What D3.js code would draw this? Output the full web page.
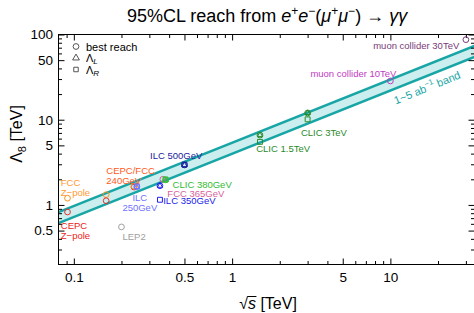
<!DOCTYPE html>
<html><head><meta charset="utf-8">
<script src="https://cdn.jsdelivr.net/npm/d3@7"></script>
<style>
body{margin:0;background:#fff}
svg{display:block}
text{font-family:"Liberation Sans",Arial,sans-serif}
</style>
</head><body>
<svg id="chart" width="474" height="313"></svg>
<script>
// collider runs: sqrt(s) in TeV and 95%CL reach in TeV
const runs     = ["FCC Z","CEPC Z","LEP2","FCC 160","CEPC 160","CEPC 240","FCC 240","ILC 250","ILC 350","FCC 365","CLIC 380","ILC 500","CLIC 1.5","CLIC 3","muon 10","muon 30"];
const sqrtS    = [0.0912,0.0912,0.2,0.16,0.16,0.24,0.24,0.25,0.35,0.365,0.38,0.5,1.5,3,10,30];
const bestReach= [1.20,0.826,0.552,1.32,1.12,1.62,1.66,1.64,1.68,2.0,1.97,2.95,6.6,12.0,28.5,87];
const lambdaL  = [null,null,null,null,null,null,null,1.62,1.68,null,1.95,2.93,6.6,12.0,null,null];
const lambdaR  = [null,null,null,null,null,null,null,1.66,1.15,null,1.99,2.97,5.5,10.1,null,null];
const runColor = ["#f7941d","#e8322f","#a0a0a0","#f7941d","#e8322f","#e8322f","#f7941d","#6f72ff","#2222ee","#d9609a","#33bb33","#1c1c9c","#2a8a2a","#2a8a2a","#c23bc2","#7a3a7a"];

// 1-5 ab^-1 band (straight in log-log)
const bandS    = [0.08, 34];
const bandHigh = [0.822, 73.4];
const bandLow  = [0.611, 54.6];

// tick values
const xMajor = [0.1,0.5,1,5,10];
const xMinor = [0.09,0.2,0.3,0.4,0.6,0.7,0.8,0.9,2,3,4,6,7,8,9,20,30];
const yMajor = [0.5,1,5,10,50,100];
const yMinor = [0.3,0.4,0.6,0.7,0.8,0.9,2,3,4,6,7,8,9,20,30,40,60,70,80,90];

// labels: run index, text lines, pixel offset from marker, anchor
const labels = [
  {i:0,  lines:["FCC","Z\u2212pole"], dx:-6.7, dy:-15.5, anchor:"start", color:"#ff9933"},
  {i:1,  lines:["CEPC","Z\u2212pole"], dx:-6.7, dy:13.7, anchor:"start", color:"#ee2222"},
  {i:2,  lines:["LEP2"], dx:1, dy:9.2, anchor:"start", color:"#a0a0a0"},
  {i:5,  lines:["CEPC/FCC","240GeV"], dx:-27.7, dy:-16.7, anchor:"start", color:"#ff5a22"},
  {i:7,  lines:["ILC","250GeV"], dx:3, dy:10.6, anchor:"middle", color:"#6f72ff"},
  {i:8,  lines:["ILC 350GeV"], dx:3.3, dy:15, anchor:"start", color:"#2222ee"},
  {i:9,  lines:["FCC 365GeV"], dx:4.5, dy:14.2, anchor:"start", color:"#d9609a"},
  {i:10, lines:["CLIC 380GeV"], dx:7, dy:4.9, anchor:"start", color:"#33bb33"},
  {i:11, lines:["ILC 500GeV"], dx:-34.4, dy:-9, anchor:"start", color:"#1c1c9c"},
  {i:12, lines:["CLIC 1.5TeV"], dx:-3.8, dy:13.3, anchor:"start", color:"#2a8a2a"},
  {i:13, lines:["CLIC 3TeV"], dx:-6.7, dy:19.6, anchor:"start", color:"#2a8a2a"},
  {i:14, lines:["muon collider 10TeV"], dx:-80, dy:-7.4, anchor:"start", color:"#c23bc2"},
  {i:15, lines:["muon collider 30TeV"], dx:-92.7, dy:6, anchor:"start", color:"#7a3a7a"}
];

const svg = d3.select('#chart');
const L = 58.5, R = 474.5, T = 34.5, B = 264.5;
const x = d3.scaleLog().domain([0.08,34]).range([L,R]);
const y = d3.scaleLog().domain([0.2,100]).range([B,T]);
const teal = '#18a5a5';

svg.append('clipPath').attr('id','clip')
  .append('rect').attr('x',L).attr('y',T).attr('width',R-L).attr('height',B-T);

// band
const bandData = bandS.map((s,k)=>({s, lo:bandLow[k], hi:bandHigh[k]}));
const gBand = svg.append('g').attr('clip-path','url(#clip)');
gBand.append('path').datum(bandData)
  .attr('d', d3.area().x(d=>x(d.s)).y0(d=>y(d.lo)).y1(d=>y(d.hi)))
  .attr('fill','#cdeeee');
['lo','hi'].forEach(key=>{
  gBand.append('path').datum(bandData)
    .attr('d', d3.line().x(d=>x(d.s)).y(d=>y(d[key])))
    .attr('fill','none').attr('stroke',teal).attr('stroke-width',2.5);
});

// band label
const bx = 427, by = 87.5;
const bl = svg.append('text')
  .attr('transform',`translate(${bx},${by}) rotate(-22)`)
  .attr('text-anchor','middle').attr('dominant-baseline','central')
  .attr('fill',teal).style('font-size','11px');
bl.append('tspan').text('1~5 ab');
bl.append('tspan').attr('dy',-4).style('font-size','8px').text('\u22121');
bl.append('tspan').attr('dy',4).text(' band');

// axes (ticks inward, frame drawn separately)
function styleAxis(g){
  g.select('.domain').remove();
  g.selectAll('line').attr('stroke','#000');
  g.selectAll('text').attr('fill','#000')
    .style('font-size','13.5px').style('font-family','"Liberation Sans",Arial,sans-serif');
}
const fmt = d=>String(d);
svg.append('g').attr('transform',`translate(0,${B})`)
  .call(d3.axisBottom(x).tickValues(xMajor).tickSize(-6).tickPadding(8).tickFormat(fmt)).call(styleAxis);
svg.append('g').attr('transform',`translate(0,${B})`)
  .call(d3.axisBottom(x).tickValues(xMinor).tickSize(-3.5).tickFormat('')).call(styleAxis);
svg.append('g').attr('transform',`translate(0,${T})`)
  .call(d3.axisTop(x).tickValues(xMajor).tickSize(-6).tickFormat('')).call(styleAxis);
svg.append('g').attr('transform',`translate(0,${T})`)
  .call(d3.axisTop(x).tickValues(xMinor).tickSize(-3.5).tickFormat('')).call(styleAxis);
svg.append('g').attr('transform',`translate(${L},0)`)
  .call(d3.axisLeft(y).tickValues(yMajor).tickSize(-6).tickPadding(5.5).tickFormat(fmt)).call(styleAxis);
svg.append('g').attr('transform',`translate(${L},0)`)
  .call(d3.axisLeft(y).tickValues(yMinor).tickSize(-3.5).tickFormat('')).call(styleAxis);
svg.append('g').attr('transform',`translate(${R},0)`)
  .call(d3.axisRight(y).tickValues(yMajor).tickSize(-6).tickFormat('')).call(styleAxis);
svg.append('g').attr('transform',`translate(${R},0)`)
  .call(d3.axisRight(y).tickValues(yMinor).tickSize(-3.5).tickFormat('')).call(styleAxis);

svg.append('rect').attr('x',L).attr('y',T).attr('width',R-L).attr('height',B-T)
  .attr('fill','none').attr('stroke','#000').attr('stroke-width',1);

// markers
const sym = {
  circle: d3.symbol().type(d3.symbolCircle).size(26)(),
  tri: d3.symbol().type(d3.symbolTriangle).size(12)(),
  sq: d3.symbol().type(d3.symbolSquare).size(24)()
};
const legSym = {
  circle: sym.circle,
  tri: d3.symbol().type(d3.symbolTriangle).size(20)(),
  sq: d3.symbol().type(d3.symbolSquare).size(20)()
};
const gM = svg.append('g');
function addMarks(vals, shape){
  const pts = runs.map((r,k)=>({k, v:vals[k]})).filter(d=>d.v!=null);
  gM.selectAll(null).data(pts).enter().append('path')
    .attr('d', sym[shape])
    .attr('transform', d=>`translate(${x(sqrtS[d.k])},${y(d.v)})`)
    .attr('fill','none').attr('stroke',d=>runColor[d.k]).attr('stroke-width',1);
}
addMarks(bestReach,'circle');
addMarks(lambdaL,'tri');
addMarks(lambdaR,'sq');

// run labels
labels.forEach(lb=>{
  const px = x(sqrtS[lb.i]) + lb.dx, py = y(bestReach[lb.i]) + lb.dy;
  lb.lines.forEach((line,j)=>{
    svg.append('text')
      .attr('x',px).attr('y',py + j*10)
      .attr('text-anchor',lb.anchor).attr('dominant-baseline','central')
      .attr('fill',lb.color).style('font-size','9.5px')
      .text(line);
  });
});

// legend
const legend = [["circle","best reach"],["tri","\u039B","L"],["sq","\u039B","R"]];
legend.forEach((lg,j)=>{
  const ly = 46.5 + j*11.5;
  svg.append('path').attr('d',legSym[lg[0]])
    .attr('transform',`translate(76,${ly})`)
    .attr('fill','none').attr('stroke','#555').attr('stroke-width',1);
  const t = svg.append('text').attr('x',86).attr('y',ly)
    .attr('dominant-baseline','central').style('font-size','11px').attr('fill','#000');
  t.append('tspan').text(lg[1]);
  if (lg[2]) t.append('tspan').attr('dy',3).style('font-size','8px').style('font-style','italic').text(lg[2]);
});

// title
const title = svg.append('text').attr('x',267).attr('y',22)
  .attr('text-anchor','middle').style('font-size','18px').attr('fill','#000');
title.append('tspan').text('95%CL reach from ');
title.append('tspan').style('font-style','italic').text('e');
title.append('tspan').attr('dy',-7).style('font-size','12px').text('+');
title.append('tspan').attr('dy',7).style('font-style','italic').text('e');
title.append('tspan').attr('dy',-7).style('font-size','12px').text('\u2212');
title.append('tspan').attr('dy',7).text('(');
title.append('tspan').style('font-style','italic').text('\u03BC');
title.append('tspan').attr('dy',-7).style('font-size','12px').text('+');
title.append('tspan').attr('dy',7).style('font-style','italic').text('\u03BC');
title.append('tspan').attr('dy',-7).style('font-size','12px').text('\u2212');
title.append('tspan').attr('dy',7).text(') \u2192 ');
title.append('tspan').style('font-style','italic').text('\u03B3\u03B3');

// x label
const xl = svg.append('text').attr('x',268).attr('y',309)
  .attr('text-anchor','middle').style('font-size','16px').attr('fill','#000');
xl.append('tspan').text('\u221A');
xl.append('tspan').style('font-style','italic').text('s');
xl.append('tspan').text(' [TeV]');
const ex1 = xl.node().getExtentOfChar(0), ex2 = xl.node().getExtentOfChar(1);
svg.append('line')
  .attr('x1',ex1.x+ex1.width-0.5).attr('x2',ex2.x+ex2.width+0.5)
  .attr('y1',ex1.y+1.5).attr('y2',ex1.y+1.5)
  .attr('stroke','#000').attr('stroke-width',1);

// y label
const yl = svg.append('text').attr('transform','translate(22,134) rotate(-90)')
  .attr('text-anchor','middle').style('font-size','16px').attr('fill','#000');
yl.append('tspan').text('\u039B');
yl.append('tspan').attr('dy',4).style('font-size','11px').text('8');
yl.append('tspan').attr('dy',-4).text(' [TeV]');
</script>
</body></html>
